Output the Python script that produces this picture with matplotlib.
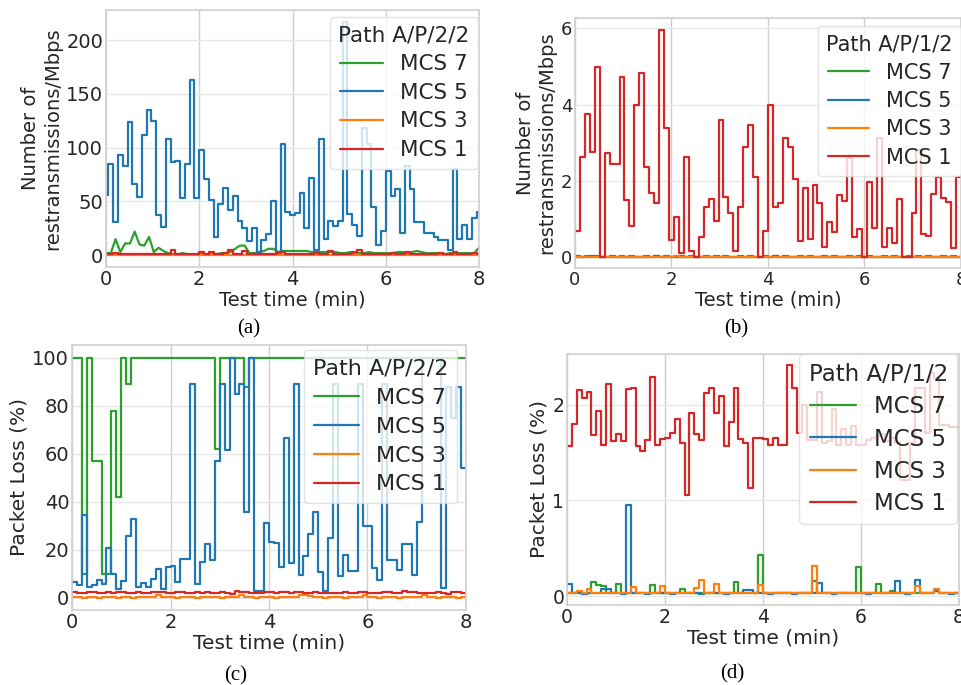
import numpy as np
import matplotlib
matplotlib.use("Agg")
import matplotlib.pyplot as plt
import seaborn as sns

sns.set_style("whitegrid")
plt.rcParams['font.family'] = ['DejaVu Sans']

# ---------------- data ----------------
labels = ["MCS 7", "MCS 5", "MCS 3", "MCS 1"]
colors = ["#2ca02c", "#1f77b4", "#ff7f0e", "#d62728"]
xticks = [0, 2, 4, 6, 8]

# (a) retransmissions, Path A/P/2/2
a_mcs7 = [2, 2, 15, 3, 11, 11, 22, 10, 9, 17, 3, 7, 4, 2,
          1, 1, 2, 1, 1, 1, 2, 1, 1, 1, 2, 2,
          3, 6, 9, 9, 2, 2, 3, 4, 6, 6, 3, 4,
          4, 4, 4, 4, 4, 3, 3, 3, 3, 3, 3,
          2, 2, 3, 2, 2, 2, 3, 2, 2, 2, 2, 2, 3, 3, 2, 3,
          4, 3, 2, 2, 2, 2, 1, 2, 2, 2, 2, 2, 2, 7]
a_mcs5 = [56, 85, 31, 93, 83, 124, 66, 54, 112, 135,
          125, 37, 26, 108, 87, 88, 53, 85, 163, 53,
          98, 71, 51, 17, 48, 63, 42, 55, 32, 25,
          13, 25, 3, 14, 20, 50, 3, 103, 40, 37,
          39, 58, 25, 72, 5, 108, 15, 32, 27, 32,
          217, 38, 28, 18, 118, 103, 45, 10, 23, 78,
          55, 62, 21, 83, 62, 31, 31, 21, 21, 17,
          14, 14, 5, 80, 15, 28, 15, 35, 40]
a_mcs3 = [0.3, 0.3, 0.5, 0.3, 0.2, 0.3, 0.4, 0.3, 0.3, 0.2,
          0.3, 0.3, 0.4, 0.3, 0.5, 0.3, 0.2, 0.3, 0.3, 0.4,
          0.3, 0.3, 0.2, 0.3, 0.5, 0.3, 0.3, 0.4, 0.3, 0.3,
          0.2, 0.3, 0.3, 0.4, 0.3, 0.3, 0.5, 0.3, 0.2, 0.3,
          0.3, 0.4, 0.3, 0.3, 0.3, 0.5, 0.3, 0.3, 0.2, 0.3,
          0.3, 0.4, 0.3, 0.3, 0.5, 0.3, 0.3, 0.2, 0.3, 0.3,
          0.4, 0.3, 0.3, 0.3, 0.5, 0.3, 0.2, 0.3, 0.3, 0.4,
          0.3, 0.3, 0.3, 0.5, 0.3, 0.3, 0.2, 0.3, 0.3]
a_mcs1 = [1, 1, 2, 1, 1, 1, 1, 1, 1, 1, 1, 1, 1, 1,
          5, 1, 1, 1, 1, 1,
          3, 1, 3, 1, 1, 2, 5, 1, 1, 4,
          1, 1, 1, 1, 1, 1, 2, 3,
          1, 1, 1, 1, 1, 1, 2, 1, 1, 4,
          1, 1, 1, 1, 3, 5,
          1, 1, 1, 1, 1, 1, 2, 1, 1, 3,
          1, 1, 1, 1, 1, 1, 2, 1, 1, 3,
          1, 1, 1, 2, 1]

# (b) retransmissions, Path A/P/1/2
b_mcs7 = [0.03, 0.02, 0.03, 0.02, 0.03, 0.02, 0.02, 0.03, 0.02, 0.03,
          0.02, 0.03, 0.02, 0.02, 0.03, 0.02, 0.03, 0.02, 0.03, 0.02,
          0.02, 0.03, 0.02, 0.03, 0.02, 0.02, 0.03, 0.02, 0.03, 0.02,
          0.03, 0.02, 0.02, 0.03, 0.02, 0.03, 0.02, 0.02, 0.03, 0.02,
          0.03, 0.02, 0.03, 0.02, 0.02, 0.03, 0.02, 0.03, 0.02, 0.02,
          0.03, 0.02, 0.03, 0.02, 0.02, 0.03, 0.02, 0.03, 0.02, 0.03,
          0.02, 0.02, 0.03, 0.02, 0.03, 0.02, 0.02, 0.03, 0.02, 0.03,
          0.02, 0.03, 0.02, 0.02, 0.03, 0.02, 0.03, 0.02]
b_mcs5 = [0.01, 0.02, 0.01, 0.03, 0.01, 0.02, 0.01, 0.01, 0.02, 0.01,
          0.01, 0.02, 0.01, 0.01, 0.02, 0.01, 0.03, 0.01, 0.01, 0.02,
          0.01, 0.01, 0.02, 0.01, 0.01, 0.02, 0.01, 0.01, 0.02, 0.01,
          0.01, 0.02, 0.01, 0.01, 0.02, 0.01, 0.01, 0.02, 0.01, 0.01,
          0.03, 0.01, 0.02, 0.01, 0.01, 0.02, 0.01, 0.01, 0.02, 0.01,
          0.01, 0.02, 0.01, 0.01, 0.02, 0.01, 0.01, 0.02, 0.01, 0.01,
          0.02, 0.01, 0.01, 0.02, 0.01, 0.01, 0.02, 0.01, 0.01, 0.02,
          0.01, 0.01, 0.02, 0.01, 0.01, 0.02, 0.01, 0.01]
b_mcs3 = [0.02, 0.02, 0.02, 0.01, 0.02, 0.02, 0.02, 0.02, 0.01, 0.02,
          0.02, 0.02, 0.02, 0.02, 0.01, 0.02, 0.02, 0.02, 0.02, 0.02,
          0.03, 0.02, 0.02, 0.02, 0.01, 0.02, 0.02, 0.02, 0.02, 0.02,
          0.02, 0.02, 0.01, 0.02, 0.02, 0.02, 0.02, 0.02, 0.02, 0.02,
          0.02, 0.01, 0.02, 0.02, 0.02, 0.02, 0.02, 0.02, 0.01, 0.02,
          0.02, 0.02, 0.02, 0.02, 0.02, 0.01, 0.02, 0.02, 0.02, 0.02,
          0.02, 0.02, 0.02, 0.01, 0.02, 0.02, 0.02, 0.02, 0.02, 0.02,
          0.02, 0.02, 0.01, 0.02, 0.02, 0.02, 0.02, 0.02]
b_mcs1 = [0.69, 2.64, 3.75, 2.77, 4.98, 0.0, 2.72, 2.44, 2.45, 4.72,
          1.50, 0.82, 3.99, 4.82, 2.36, 1.68, 1.41, 5.96, 3.38, 0.45,
          1.05, 0.10, 2.62, 0.17, 0.0, 0.54, 1.31, 1.54, 0.96, 3.61,
          1.57, 1.15, 0.17, 1.31, 2.88, 3.47, 2.10, 0.0, 0.69, 4.00,
          1.33, 1.43, 3.12, 2.88, 2.05, 0.43, 1.81, 0.47, 1.89, 1.43,
          0.28, 0.92, 0.67, 1.63, 1.48, 2.61, 0.54, 0.75, 0.0, 1.98,
          0.76, 3.12, 0.26, 0.76, 0.38, 1.52, 0.0, 0.0, 1.16, 2.80,
          0.62, 0.55, 1.65, 2.10, 1.55, 1.45, 0.25, 2.10]

# (c) packet loss, Path A/P/2/2
c_mcs7 = [100, 100, 10, 100, 57, 57, 10, 10, 78, 42,
          100, 89, 100, 100, 100, 100, 100, 100, 100, 100,
          100, 100, 100, 100, 100, 100, 100, 100, 100, 62,
          100, 100, 100, 100, 100, 88, 100, 100, 100, 100,
          100, 100, 100, 100, 100, 100, 100, 100, 100, 100,
          100, 100, 100, 100, 100, 100, 100, 100, 100, 100,
          100, 100, 100, 100, 100, 100, 100, 100, 100, 100,
          100, 100, 100, 100, 100, 100, 100, 100, 100, 100]
c_mcs5 = [6.7, 5.3, 34.4, 4.6, 5.3, 7.6, 5.7, 20.8, 9.7, 3.5,
          7.1, 25.7, 33, 4.6, 6.3, 4.6, 8, 11.8, 3.5, 12.9,
          13.2, 6.7, 16, 16, 89, 5.7, 15, 22.4, 15.7, 57,
          89, 61.5, 100, 84.7, 89, 35.8, 100, 2.8, 2.8, 31,
          23.3, 23, 13, 66.7, 14.3, 89, 9.5, 17.5, 26.5, 35.8,
          10.9, 2.8, 25, 89, 9, 18, 11, 11, 89, 30,
          30, 12.5, 7.4, 89, 15.7, 15.7, 11.5, 22.6, 22.6, 9.4,
          31.6, 100, 100, 100, 100, 3.9, 88, 75, 88, 54]
c_mcs3 = [0.2, 0.2, 0.1, 0.2, 0.2, 0.1, 0.2, 0.2, 0.2, 0.1,
          0.2, 0.2, 0.1, 0.2, 0.2, 0.2, 0.3, 1.0, 0.3, 0.2,
          0.2, 0.1, 0.2, 0.2, 0.2, 0.1, 0.2, 0.2, 0.2, 0.2,
          0.1, 0.2, 0.2, 0.2, 1.0, 0.2, 0.2, 0.1, 0.2, 0.2,
          0.2, 0.1, 0.2, 0.2, 0.2, 0.3, 1.0, 1.2, 0.8, 0.2,
          0.2, 0.1, 0.2, 0.2, 0.2, 0.1, 0.2, 0.2, 0.3, 1.0,
          0.2, 0.2, 0.1, 0.2, 0.2, 0.2, 0.1, 0.2, 0.2, 0.2,
          0.2, 1.0, 0.2, 0.2, 0.1, 0.2, 0.2, 0.2, 0.1, 0.2]
c_mcs1 = [2.3, 2.0, 2.0, 2.5, 2.3, 2.0, 2.1, 2.2, 2.0, 2.4,
          2.2, 2.0, 2.1, 2.3, 2.0, 2.1, 2.2, 2.6, 2.3, 2.1,
          2.0, 2.2, 2.3, 2.1, 2.0, 2.2, 2.1, 2.3, 1.9, 2.0,
          2.4, 2.1, 1.5, 2.9, 2.6, 2.2, 1.8, 2.0, 1.8, 2.2,
          2.3, 2.0, 2.2, 2.4, 2.1, 2.5, 2.3, 2.0, 2.1, 2.2,
          2.0, 1.8, 2.0, 2.1, 1.9, 2.2, 2.0, 2.1, 2.4, 2.3,
          2.0, 1.9, 2.1, 2.2, 2.5, 2.0, 1.8, 3.0, 2.5, 2.4,
          2.1, 1.9, 2.0, 1.8, 2.2, 2.0, 1.7, 2.6, 2.4, 2.1]

# (d) packet loss, Path A/P/1/2
d_mcs7 = [0.03, 0.03, 0.03, 0.03, 0.03, 0.15, 0.12, 0.10, 0.03, 0.03,
          0.13, 0.03, 0.03, 0.03, 0.03, 0.03, 0.03, 0.12, 0.03, 0.03,
          0.03, 0.03, 0.03, 0.07, 0.03, 0.03, 0.03, 0.03, 0.03, 0.03,
          0.03, 0.03, 0.03, 0.03, 0.15, 0.03, 0.03, 0.03, 0.03, 0.43,
          0.03, 0.03, 0.03, 0.03, 0.03, 0.03, 0.03, 0.03, 0.03, 0.03,
          0.16, 0.03, 0.03, 0.03, 0.03, 0.03, 0.03, 0.03, 0.03, 0.30,
          0.03, 0.03, 0.03, 0.13, 0.03, 0.03, 0.05, 0.03, 0.03, 0.03,
          0.03, 0.03, 0.03, 0.03, 0.03, 0.05, 0.03, 0.03, 0.03, 0.03]
d_mcs5 = [0.13, 0.03, 0.03, 0.02, 0.03, 0.03, 0.03, 0.07, 0.07, 0.03,
          0.03, 0.02, 0.95, 0.03, 0.03, 0.03, 0.02, 0.03, 0.03, 0.03,
          0.03, 0.02, 0.03, 0.03, 0.03, 0.03, 0.03, 0.02, 0.03, 0.03,
          0.03, 0.03, 0.02, 0.03, 0.03, 0.03, 0.06, 0.06, 0.03, 0.03,
          0.03, 0.02, 0.03, 0.03, 0.03, 0.03, 0.02, 0.03, 0.03, 0.03,
          0.03, 0.14, 0.03, 0.03, 0.02, 0.03, 0.03, 0.03, 0.03, 0.03,
          0.03, 0.02, 0.03, 0.03, 0.03, 0.03, 0.03, 0.16, 0.03, 0.02,
          0.03, 0.17, 0.03, 0.03, 0.03, 0.05, 0.03, 0.03, 0.02, 0.03]
d_mcs3 = [0.03, 0.03, 0.05, 0.03, 0.07, 0.03, 0.03, 0.03, 0.03, 0.03,
          0.03, 0.03, 0.03, 0.09, 0.03, 0.03, 0.03, 0.03, 0.03, 0.10,
          0.03, 0.03, 0.03, 0.03, 0.03, 0.03, 0.08, 0.17, 0.03, 0.03,
          0.13, 0.03, 0.03, 0.03, 0.03, 0.03, 0.03, 0.03, 0.03, 0.11,
          0.03, 0.03, 0.03, 0.03, 0.03, 0.03, 0.03, 0.03, 0.03, 0.03,
          0.31, 0.03, 0.03, 0.03, 0.03, 0.03, 0.03, 0.03, 0.03, 0.03,
          0.03, 0.03, 0.03, 0.03, 0.03, 0.03, 0.03, 0.03, 0.03, 0.03,
          0.03, 0.10, 0.03, 0.03, 0.03, 0.07, 0.03, 0.03, 0.03, 0.03]
d_mcs1 = [1.57, 1.80, 2.15, 2.07, 2.13, 1.68, 1.93, 1.58, 2.22, 1.62,
          1.69, 1.62, 2.16, 2.17, 1.57, 1.52, 1.63, 2.29, 1.58, 1.64,
          1.65, 1.70, 1.85, 1.60, 1.06, 1.91, 1.69, 1.63, 2.12, 2.17,
          1.91, 2.09, 1.57, 1.82, 2.17, 1.64, 1.60, 1.13, 1.65, 1.65,
          1.64, 1.58, 1.65, 1.58, 1.58, 2.42, 2.17, 1.70, 2.00, 1.63,
          1.63, 2.13, 1.60, 1.62, 1.95, 1.58, 1.75, 1.58, 1.78, 1.58,
          1.58, 1.63, 1.65, 1.67, 1.69, 1.62, 1.65, 1.60, 1.21, 1.21,
          1.60, 2.17, 2.17, 1.70, 2.33, 2.28, 1.79, 1.79, 1.77, 1.77]

# ---------------- figure ----------------
W, H = 962, 685
fig = plt.figure(figsize=(W / 100, H / 100), dpi=100)
TXT = "#262626"


def add_ax(left, top, right, bottom):
    return fig.add_axes([left / W, 1 - bottom / H, (right - left) / W, (bottom - top) / H])


def style(ax, ylim, yticks, ylabel, fs_tick, fs_lab):
    ax.set_xlim(0, 8)
    ax.set_ylim(*ylim)
    ax.set_xticks(xticks)
    ax.set_yticks(yticks)
    ax.tick_params(labelsize=fs_tick, pad=2, length=0, colors=TXT)
    ax.grid(axis="x", color="#cfcfcf", lw=1.0)
    ax.grid(axis="y", color="#e8e8e8", lw=1.0)
    for s in ax.spines.values():
        s.set_color("#d0d0d0")
        s.set_linewidth(1.2)
    ax.set_xlabel("Test time (min)", fontsize=fs_lab, color=TXT, labelpad=1)
    ax.set_ylabel(ylabel, fontsize=fs_lab, color=TXT, labelpad=3)


def draw(ax, series, lw=1.6):
    for vals, c, lab in zip(series, colors, labels):
        v = np.asarray(vals, float)
        x = np.linspace(0, 8, len(v) + 1)
        ax.plot(x, np.append(v, v[-1]), color=c, lw=lw,
                drawstyle="steps-post", label=lab)


def legend(ax, title, rx, ty, fs):
    lg = ax.legend(title=title, loc="upper right",
                   bbox_to_anchor=(rx / W, 1 - ty / H),
                   bbox_transform=fig.transFigure, borderaxespad=0,
                   fontsize=fs, title_fontsize=fs, framealpha=0.8,
                   edgecolor="#dddddd", labelspacing=0.4, handlelength=2.0,
                   handletextpad=0.8, borderpad=0.4)
    for t in lg.get_texts():
        t.set_color(TXT)
    lg.get_title().set_color(TXT)
    return lg


# (a)
axa = add_ax(106, 10, 479, 267)
axa.plot(np.linspace(0, 8, len(a_mcs7)), a_mcs7, color=colors[0], lw=1.6, label=labels[0])
for vals, c, lab in zip([a_mcs5, a_mcs3, a_mcs1], colors[1:], labels[1:]):
    axa.plot(np.linspace(0, 8, len(vals)), vals, color=c, lw=1.6,
             drawstyle="steps-mid", label=lab)
style(axa, (-10.9, 228), [0, 50, 100, 150, 200],
      "Number of\nrestransmissions/Mbps", 14, 14)
legend(axa, "Path A/P/2/2", 478, 17, 15.5)

# (b)
axb = add_ax(575, 18, 961, 268)
draw(axb, [b_mcs7, b_mcs5, b_mcs3, b_mcs1])
style(axb, (-0.28, 6.27), [0, 2, 4, 6],
      "Number of\nrestransmissions/Mbps", 13, 14)
legend(axb, "Path A/P/1/2", 961, 26, 15)

# (c)
axc = add_ax(72, 345, 466, 610)
draw(axc, [c_mcs7, c_mcs5, c_mcs3, c_mcs1])
style(axc, (-5.1, 105.3), [0, 20, 40, 60, 80, 100], "Packet Loss (%)", 14, 14.5)
legend(axc, "Path A/P/2/2", 457, 350, 16)

# (d)
axd = add_ax(567, 354, 959, 605)
draw(axd, [d_mcs7, d_mcs5, d_mcs3, d_mcs1])
style(axd, (-0.094, 2.53), [0, 1, 2], "Packet Loss (%)", 13.5, 14.5)
legend(axd, "Path A/P/1/2", 957, 354, 16.5)

# captions
for txt, cx, cy in [("(a)", 249, 329), ("(b)", 736, 329), ("(c)", 236, 676), ("(d)", 732, 674)]:
    fig.text(cx / W, 1 - cy / H, txt, ha="center", va="center",
             fontsize=15, family="Liberation Serif", color="black")

fig.savefig("out.png", dpi=100)
